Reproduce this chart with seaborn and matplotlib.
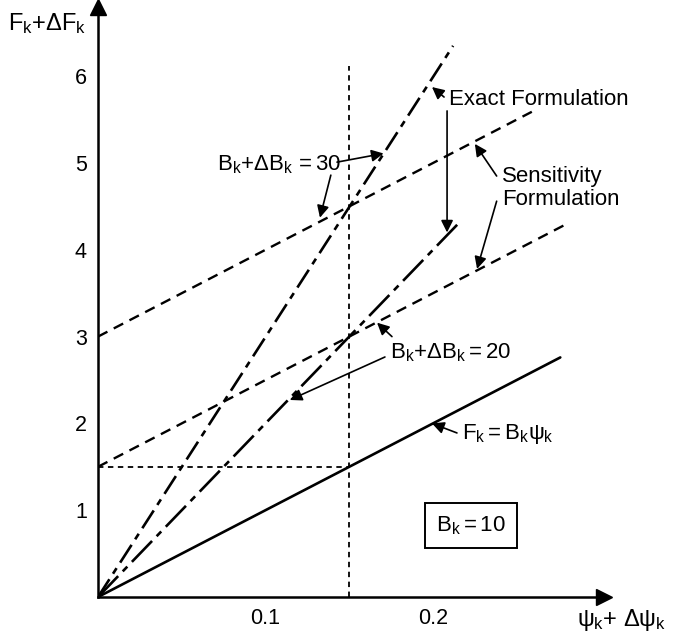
import numpy as np
import pandas as pd
import matplotlib
matplotlib.use("Agg")
import matplotlib.pyplot as plt
import seaborn as sns

# ---- data ----
# F_k = B_k psi_k  (B_k = 10)
psi_base = [0.0, 0.276]
F_base = [0.0, 2.76]

# exact formulation, B_k + dB_k = 20 and 30
psi_exact20 = [0.0, 0.2155]
F_exact20 = [0.0, 4.31]
psi_exact30 = [0.0, 0.212]
F_exact30 = [0.0, 6.35]

# sensitivity formulation (tangent at psi = 0.15)
psi_sens20 = [0.0, 0.279]
F_sens20 = [1.5, 4.29]
psi_sens30 = [0.0, 0.259]
F_sens30 = [3.0, 5.59]

# guide lines at psi = 0.15 / F = 1.5
psi_vguide = [0.15, 0.15]
F_vguide = [0.0, 6.12]
psi_hguide = [0.0, 0.15]
F_hguide = [1.5, 1.5]

x_ticks = [0.1, 0.2]
x_ticklabels = ["0.1", "0.2"]
y_ticks = [1, 2, 3, 4, 5, 6]

sns.set_style("white")
plt.rcParams['font.family'] = ['Liberation Sans', 'DejaVu Sans']
plt.rcParams['mathtext.fontset'] = 'custom'
plt.rcParams['mathtext.rm'] = 'Liberation Sans'
plt.rcParams['mathtext.it'] = 'Liberation Sans'
plt.rcParams['text.color'] = 'k'
plt.rcParams['xtick.color'] = 'k'
plt.rcParams['ytick.color'] = 'k'

W, H = 673, 639
fig = plt.figure(figsize=(W / 100, H / 100), dpi=100)
x0, y0 = 98, 597
ax = fig.add_axes([x0 / W, (H - y0) / H, 0.302 * 1675 / W, 6.8 * 86.8 / H])
ax.set_xlim(0, 0.302)
ax.set_ylim(0, 6.8)

def line(xs, ys, ls, lw=1.9):
    sns.lineplot(x=xs, y=ys, ax=ax, color='k', linestyle=ls, lw=lw,
                 estimator=None, sort=False)

line(psi_base, F_base, '-', 1.9)
line(psi_exact20, F_exact20, (0, (11, 2.5, 2.5, 2.5)))
line(psi_exact30, F_exact30, (0, (8, 2.5, 2.5, 2.5)))
line(psi_sens20, F_sens20, (0, (4.5, 3)), 1.7)
line(psi_sens30, F_sens30, (0, (4.5, 3)), 1.7)
line(psi_vguide, F_vguide, (0, (3, 2.5)), 1.3)
line(psi_hguide, F_hguide, (0, (3, 2.5)), 1.3)

# axes with arrow heads
for s in ['top', 'right']:
    ax.spines[s].set_visible(False)
for s in ['left', 'bottom']:
    ax.spines[s].set_linewidth(1.8)
    ax.spines[s].set_color('k')
ax.plot(1, 0, '>k', ms=12, transform=ax.transAxes, clip_on=False)
ax.plot(0, 1, '^k', ms=12, transform=ax.transAxes, clip_on=False)

ax.set_xticks(x_ticks)
ax.set_xticklabels(x_ticklabels)
ax.set_yticks(y_ticks)
ax.tick_params(direction='in', length=8, width=1.6, labelsize=15.5, pad=8)

txt = dict(fontsize=16, color='k')
arr = dict(arrowstyle='-|>', color='k', lw=1.2, shrinkA=0, shrinkB=0,
           mutation_scale=18)

def arrow(tail, head):
    ax.annotate('', xy=head, xytext=tail, arrowprops=arr)

# Exact Formulation
ax.text(0.2096, 5.73, 'Exact Formulation', ha='left', va='center', **txt)
arrow((0.2066, 5.76), (0.1994, 5.875))
arrow((0.2084, 5.60), (0.2084, 4.20))

# Sensitivity Formulation
ax.text(0.241, 4.71, 'Sensitivity\nFormulation', ha='left', va='center',
        linespacing=1.15, **txt)
arrow((0.238, 4.85), (0.225, 5.22))
arrow((0.238, 4.56), (0.2263, 3.78))

# B_k + dB_k = 30
ax.text(0.071, 4.98, r'$\mathregular{B_k{+}\Delta B_k\,{=}30}$', ha='left',
        va='center', **txt)
arrow((0.1427, 5.01), (0.1705, 5.11))
arrow((0.139, 4.86), (0.1325, 4.37))

# B_k + dB_k = 20
ax.text(0.1743, 2.82, r'$\mathregular{B_k{+}\Delta B_k{=}20}$', ha='left',
        va='center', **txt)
arrow((0.1755, 3.0), (0.1666, 3.16))
arrow((0.1713, 2.765), (0.1145, 2.27))

# F_k = B_k psi_k
ax.text(0.2173, 1.88, r'$\mathregular{F_k{=}B_k}\psi_\mathregular{k}$', ha='left',
        va='center', **txt)
arrow((0.2143, 1.89), (0.1994, 2.0))

# box
ax.text(0.2227, 0.82, r'$\mathregular{B_k{=}10}$', ha='center', va='center',
        bbox=dict(boxstyle='square,pad=0.5', fc='white', ec='k', lw=1.4), **txt)

# axis labels
fig.text(8 / W, 1 - 24 / H, r'$\mathregular{F_k{+}\Delta F_k}$', ha='left',
         va='center', fontsize=17)
fig.text(577 / W, 1 - 620 / H,
         r'$\psi_\mathregular{k}\mathregular{{+}\ \Delta}\psi_\mathregular{k}$',
         ha='left', va='center', fontsize=17)

fig.savefig('out.png', dpi=100)
